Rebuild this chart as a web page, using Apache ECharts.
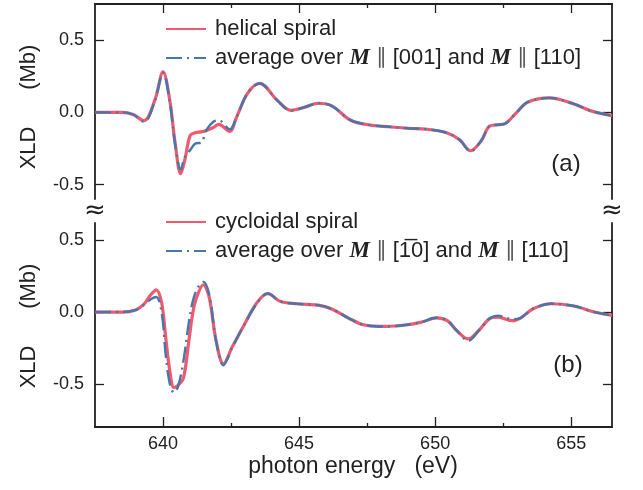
<!DOCTYPE html>
<html>
<head>
<meta charset="utf-8">
<script src="https://cdn.jsdelivr.net/npm/echarts@6/dist/echarts.min.js"></script>
<style>
html, body { margin: 0; padding: 0; background: #fff; }
#main { width: 643px; height: 490px; }
</style>
</head>
<body>
<div id="main"></div>
<script>
var myChart = echarts.init(document.getElementById('main'));

// panel (a): helical spiral vs average over M || [001] and M || [110]
var energyA = [637.5, 638.5, 638.9, 639.3, 639.7, 640.0, 640.25, 640.45, 640.65, 640.8, 641.0, 641.2, 641.4, 641.6, 641.85, 642.05, 642.45, 642.7, 643.1, 643.55, 644.2, 644.7, 645.2, 645.7, 646.2, 646.9, 647.6, 648.3, 649.0, 649.7, 650.4, 650.9, 651.3, 651.7, 652.0, 652.3, 652.55, 653.0, 653.4, 654.2, 655.1, 655.7, 656.5];
var helical = [0.0, 0.0, -0.015, -0.058, 0.085, 0.28, 0.08, -0.22, -0.425, -0.33, -0.16, -0.14, -0.135, -0.125, -0.105, -0.083, -0.132, -0.035, 0.13, 0.2, 0.083, 0.014, 0.035, 0.063, 0.045, -0.055, -0.088, -0.1, -0.11, -0.117, -0.14, -0.19, -0.266, -0.195, -0.095, -0.086, -0.08, 0.0, 0.07, 0.1, 0.058, 0.012, -0.023];
var avgA = [0.0, 0.0, -0.015, -0.065, 0.08, 0.275, 0.07, -0.23, -0.395, -0.31, -0.26, -0.215, -0.21, -0.12, -0.065, -0.055, -0.118, -0.035, 0.13, 0.2, 0.083, 0.012, 0.035, 0.063, 0.045, -0.055, -0.088, -0.1, -0.11, -0.117, -0.14, -0.19, -0.27, -0.195, -0.095, -0.086, -0.08, 0.0, 0.07, 0.1, 0.058, 0.012, -0.023];

// panel (b): cycloidal spiral vs average over M || [1-10] and M || [110]
var energyB = [637.5, 638.5, 639.0, 639.3, 639.55, 639.75, 639.95, 640.1, 640.25, 640.4, 640.55, 640.75, 640.95, 641.1, 641.25, 641.48, 641.7, 641.95, 642.22, 642.55, 642.95, 643.45, 643.85, 644.3, 644.9, 645.7, 646.2, 646.8, 647.4, 648.2, 648.9, 649.5, 650.05, 650.45, 650.8, 651.22, 651.62, 652.0, 652.3, 652.85, 653.15, 653.6, 654.25, 655.1, 655.85, 656.5];
var cycloidal = [0.0, 0.0, 0.015, 0.055, 0.12, 0.155, 0.065, -0.18, -0.41, -0.525, -0.51, -0.46, -0.2, 0.0, 0.11, 0.19, 0.1, -0.2, -0.36, -0.24, -0.1, 0.065, 0.128, 0.075, 0.058, 0.048, 0.022, -0.04, -0.09, -0.1, -0.09, -0.07, -0.04, -0.06, -0.13, -0.187, -0.125, -0.046, -0.035, -0.06, -0.04, 0.023, 0.058, 0.042, 0.0, -0.023];
var avgB = [0.0, 0.0, 0.015, 0.05, 0.09, 0.105, -0.005, -0.3, -0.5, -0.56, -0.52, -0.34, -0.07, 0.08, 0.16, 0.21, 0.12, -0.2, -0.37, -0.245, -0.1, 0.06, 0.13, 0.075, 0.058, 0.048, 0.022, -0.04, -0.09, -0.1, -0.09, -0.07, -0.04, -0.06, -0.13, -0.2, -0.125, -0.045, -0.025, -0.05, -0.04, 0.023, 0.058, 0.042, 0.0, -0.023];

var xTicks = [640, 645, 650, 655];
var xMinorTicks = [642.5, 647.5, 652.5];
var yTicks = [-0.5, 0, 0.5];

var nameHelical = 'helical spiral';
var nameAvgA = 'average over M || [001] and M || [110]';
var nameCycloidal = 'cycloidal spiral';
var nameAvgB = 'average over M || [1-10] and M || [110]';

var font = "'Liberation Sans', Arial, sans-serif";
var red = '#f05a6e';
var blue = '#4477aa';
var dashDot = [16, 5, 2, 5];

function pairs(xs, ys) {
	var out = [];
	for (let i = 0; i < xs.length; i++) {
		out.push([xs[i], ys[i]]);
	}
	return out;
}

function xAx(grid, pos, ticks, len, labels) {
	return {
		type: 'value',
		gridIndex: grid,
		position: pos,
		min: 637.5,
		max: 656.5,
		axisLine: { show: true, onZero: false, lineStyle: { color: '#222', width: 1.8 } },
		axisTick: { show: true, inside: true, length: len, customValues: ticks, lineStyle: { color: '#222', width: 1.3 } },
		axisLabel: { show: labels, customValues: ticks, margin: 8, color: '#222', fontSize: 18, fontFamily: font },
		splitLine: { show: false }
	};
}

function yAx(grid, pos, min, max, labels) {
	return {
		type: 'value',
		gridIndex: grid,
		position: pos,
		min: min,
		max: max,
		axisLine: { show: true, onZero: false, lineStyle: { color: '#222', width: 1.8 } },
		axisTick: { show: true, inside: true, length: 9, customValues: yTicks, lineStyle: { color: '#222', width: 1.3 } },
		axisLabel: {
			show: labels, customValues: yTicks, margin: 11, color: '#222', fontSize: 18, fontFamily: font,
			formatter: function (v) { return v.toFixed(1); }
		},
		splitLine: { show: false }
	};
}

var richText = {
	m: { fontFamily: "'Liberation Serif', 'DejaVu Serif', serif", fontStyle: 'italic', fontWeight: 'bold', fontSize: 23, color: '#222' },
	p: { fontFamily: "'DejaVu Sans', sans-serif", fontSize: 21, color: '#555' }
};

function legendFmt(name) {
	if (name === nameAvgA) return 'average over {m|M} {p|\u2225} [001] and {m|M} {p|\u2225} [110]';
	if (name === nameAvgB) return 'average over {m|M} {p|\u2225} [1\u03050] and {m|M} {p|\u2225} [110]';
	return name;
}

function legendAt(top, names) {
	return {
		orient: 'vertical',
		left: 165,
		top: top,
		padding: 0,
		itemGap: 3,
		itemWidth: 40,
		itemHeight: 14,
		data: names,
		formatter: legendFmt,
		itemStyle: { opacity: 0 },
		textStyle: { fontSize: 22, fontFamily: font, color: '#222', lineHeight: 26, padding: [0, 0, 0, 4], rich: richText }
	};
}

function lineSeries(name, x, y, data, color, width, type, z) {
	return {
		name: name,
		type: 'line',
		xAxisIndex: x,
		yAxisIndex: y,
		data: data,
		smooth: 0.35,
		symbol: 'none',
		z: z,
		lineStyle: { color: color, width: width, type: type },
		itemStyle: { color: color }
	};
}

option = {
	animation: false,
	backgroundColor: '#fff',
	grid: [
		{ left: 95, right: 31, top: 4, height: 195 },
		{ left: 95, right: 31, top: 223, height: 204 }
	],
	xAxis: [
		xAx(0, 'top', xTicks, 9, false),
		xAx(0, 'top', xMinorTicks, 4, false),
		xAx(1, 'bottom', xTicks, 10, true),
		xAx(1, 'bottom', xMinorTicks, 4, false)
	],
	yAxis: [
		yAx(0, 'left', -0.6, 0.75, true),
		yAx(0, 'right', -0.6, 0.75, false),
		yAx(1, 'left', -0.8, 0.62, true),
		yAx(1, 'right', -0.8, 0.62, false)
	],
	legend: [
		legendAt(16, [nameHelical, nameAvgA]),
		legendAt(209, [nameCycloidal, nameAvgB])
	],
	series: [
		lineSeries(nameHelical, 0, 0, pairs(energyA, helical), red, 3.2, 'solid', 2),
		lineSeries(nameAvgA, 0, 0, pairs(energyA, avgA), blue, 2.4, dashDot, 3),
		lineSeries(nameCycloidal, 2, 2, pairs(energyB, cycloidal), red, 3.2, 'solid', 2),
		lineSeries(nameAvgB, 2, 2, pairs(energyB, avgB), blue, 2.4, dashDot, 3)
	],
	graphic: [
		{ type: 'text', x: 29, y: 107, rotation: Math.PI / 2, style: { text: 'XLD      (Mb)', font: '22px ' + font, fill: '#222', textAlign: 'center', textVerticalAlign: 'middle' } },
		{ type: 'text', x: 29, y: 326, rotation: Math.PI / 2, style: { text: 'XLD      (Mb)', font: '22px ' + font, fill: '#222', textAlign: 'center', textVerticalAlign: 'middle' } },
		{ type: 'text', x: 353, y: 467, style: { text: 'photon energy   (eV)', font: '23px ' + font, fill: '#222', textAlign: 'center', textVerticalAlign: 'middle' } },
		{ type: 'text', x: 566, y: 164, style: { text: '(a)', font: '24px ' + font, fill: '#222', textAlign: 'center', textVerticalAlign: 'middle' } },
		{ type: 'text', x: 568, y: 365, style: { text: '(b)', font: '24px ' + font, fill: '#222', textAlign: 'center', textVerticalAlign: 'middle' } },
		{ type: 'text', x: 95, y: 211, style: { text: '\u2248', font: '26px DejaVu Sans', fill: '#222', textAlign: 'center', textVerticalAlign: 'middle' } },
		{ type: 'text', x: 612, y: 211, style: { text: '\u2248', font: '26px DejaVu Sans', fill: '#222', textAlign: 'center', textVerticalAlign: 'middle' } }
	]
};
myChart.setOption(option);
</script>
</body>
</html>
